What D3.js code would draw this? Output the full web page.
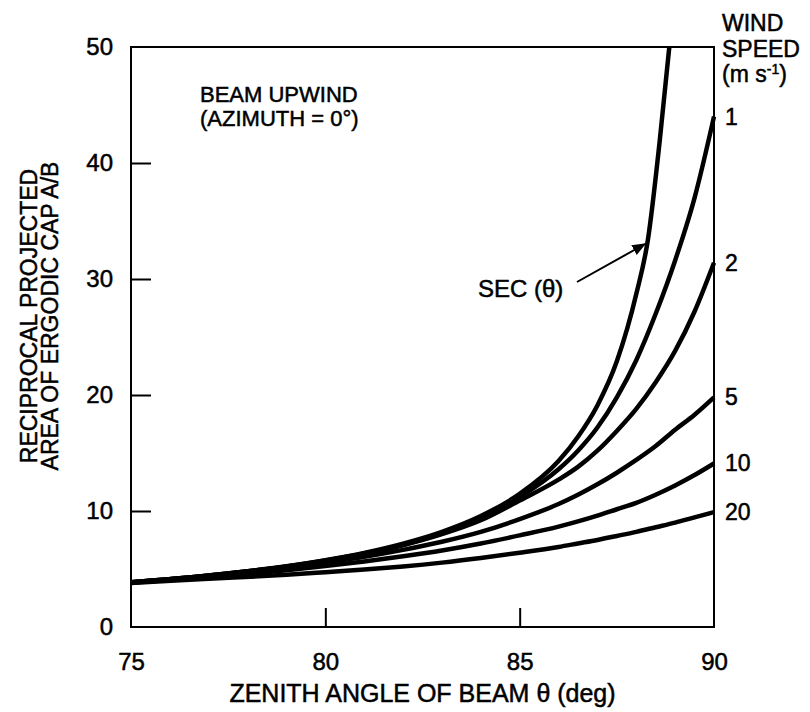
<!DOCTYPE html>
<html>
    <head>
        <title></title>
        <script src="https://d3js.org/d3.v7.min.js"></script>
    </head>

    <body>
        <div id="my_dataviz"></div>
    </body>

    <script>
        // values
        var secAngles = [75, 77, 79, 80, 81, 82, 83, 84, 85, 86, 86.5, 87, 87.5, 88, 88.3, 88.6, 88.85];
        var secValues = [3.86, 4.45, 5.24, 5.76, 6.39, 7.19, 8.21, 9.57, 11.47, 14.3, 16.4, 19.1, 22.9, 28.7, 33.4, 41.8, 50];

        var windAngles = [75, 77, 79, 80, 81, 82, 83, 84, 85, 86, 86.5, 87, 87.5, 88, 88.5, 89, 89.5, 90];
        var wind1 = [3.86, 4.45, 5.22, 5.73, 6.33, 7.1, 8.08, 9.35, 11.2, 13.6, 15.2, 17.2, 19.8, 23.0, 27.0, 31.6, 37.0, 44.0];
        var wind2 = [3.86, 4.45, 5.2, 5.7, 6.3, 7.05, 8.0, 9.2, 10.9, 12.7, 13.8, 15.2, 16.9, 18.8, 21.1, 23.8, 27.2, 31.4];
        var wind5 = [3.84, 4.4, 5.1, 5.55, 6.05, 6.65, 7.35, 8.2, 9.3, 10.6, 11.4, 12.3, 13.3, 14.4, 15.6, 17.0, 18.3, 19.8];
        var wind10 = [3.82, 4.3, 4.9, 5.25, 5.65, 6.1, 6.6, 7.2, 7.9, 8.65, 9.1, 9.6, 10.15, 10.7, 11.4, 12.2, 13.1, 14.1];
        var wind20 = [3.8, 4.15, 4.5, 4.72, 4.95, 5.22, 5.55, 5.95, 6.4, 6.9, 7.2, 7.5, 7.85, 8.2, 8.6, 9.0, 9.45, 9.9];
        var windLabels = ["1", "2", "5", "10", "20"];

        var xTicks = [75, 80, 85, 90];
        var yTicks = [0, 10, 20, 30, 40, 50];

        var margin = { top: 47, right: 96, bottom: 85, left: 131 };
        var width = 810 - margin.left - margin.right;
        var height = 712 - margin.top - margin.bottom;
        var font = "'Liberation Sans', Arial, Helvetica, sans-serif";

        var svg = d3.select("#my_dataviz")
        .append("svg")
        .attr("width", 810)
        .attr("height", 712)
        .style("font-family", font)
        .append("g")
        .attr("transform", "translate(" + margin.left + "," + margin.top + ")");

        var x = d3.scaleLinear().domain([75, 90]).range([0, width]);
        var y = d3.scaleLinear().domain([0, 50]).range([height, 0]);

        // frame
        svg.append("rect")
        .attr("width", width)
        .attr("height", height)
        .attr("fill", "none")
        .attr("stroke", "#000")
        .attr("stroke-width", 2);

        // x axis, ticks pointing inward
        var gx = svg.append("g")
        .attr("transform", "translate(0," + height + ")")
        .call(d3.axisBottom(x).tickValues(xTicks).tickSize(-19).tickPadding(26).tickFormat(d3.format("d")));
        gx.select(".domain").remove();
        gx.selectAll(".tick line")
        .attr("stroke-width", 2)
        .attr("display", function(d) { return (d == 75 || d == 90) ? "none" : null; });
        gx.selectAll("text").attr("font-size", 24).attr("font-family", font).attr("fill", "#000");

        // y axis
        var gy = svg.append("g")
        .call(d3.axisLeft(y).tickValues(yTicks).tickSize(-20).tickPadding(18));
        gy.select(".domain").remove();
        gy.selectAll(".tick line")
        .attr("stroke-width", 2)
        .attr("display", function(d) { return (d == 0 || d == 50) ? "none" : null; });
        gy.selectAll("text").attr("font-size", 24).attr("font-family", font).attr("fill", "#000");

        // curves
        var line = d3.line()
        .x(function(d) { return x(d[0]); })
        .y(function(d) { return y(d[1]); })
        .curve(d3.curveMonotoneX);

        var series = [wind1, wind2, wind5, wind10, wind20];
        series.forEach(function(vals, i) {
            var pts = windAngles.map(function(a, j) { return [a, vals[j]]; });
            svg.append("path")
            .attr("d", line(pts))
            .attr("fill", "none")
            .attr("stroke", "#000")
            .attr("stroke-width", 4.5);

            svg.append("text")
            .attr("x", width + 11)
            .attr("y", y(vals[vals.length - 1]))
            .attr("dy", "0.35em")
            .attr("font-size", 23)
            .text(windLabels[i]);
        });

        svg.append("path")
        .attr("d", line(secAngles.map(function(a, j) { return [a, secValues[j]]; })))
        .attr("fill", "none")
        .attr("stroke", "#000")
        .attr("stroke-width", 4.5);

        // annotations
        var note = svg.append("text").attr("font-size", 22);
        note.append("tspan").attr("x", 69).attr("y", 55).text("BEAM UPWIND");
        note.append("tspan").attr("x", 69).attr("y", 79).text("(AZIMUTH = 0°)");

        svg.append("text")
        .attr("x", 347)
        .attr("y", 250)
        .attr("font-size", 24)
        .text("SEC (θ)");

        svg.append("defs").append("marker")
        .attr("id", "arrow")
        .attr("viewBox", "0 0 10 10")
        .attr("refX", 9).attr("refY", 5)
        .attr("markerWidth", 7).attr("markerHeight", 7)
        .attr("orient", "auto")
        .append("path")
        .attr("d", "M0,1 L10,5 L0,9 z")
        .attr("fill", "#000");

        svg.append("line")
        .attr("x1", 446).attr("y1", 235)
        .attr("x2", 514).attr("y2", 197)
        .attr("stroke", "#000")
        .attr("stroke-width", 2)
        .attr("marker-end", "url(#arrow)");

        // wind speed header
        var head = svg.append("text").attr("font-size", 23);
        head.append("tspan").attr("x", width + 8).attr("y", -16).text("WIND");
        head.append("tspan").attr("x", width + 8).attr("y", 10).text("SPEED");
        head.append("tspan").attr("x", width + 8).attr("y", 35).text("(m s");
        head.append("tspan").attr("font-size", 14).attr("dy", -8).text("-1");
        head.append("tspan").attr("dy", 8).text(")");

        // axis titles
        svg.append("text")
        .attr("x", width / 2)
        .attr("y", height + 75)
        .attr("text-anchor", "middle")
        .attr("font-size", 25)
        .text("ZENITH ANGLE OF BEAM θ (deg)");

        var yt = svg.append("text")
        .attr("transform", "translate(" + (-94) + "," + (height / 2 - 21) + ") rotate(-90)")
        .attr("text-anchor", "middle")
        .attr("font-size", 23);
        yt.append("tspan").attr("x", 0).attr("y", 0).text("RECIPROCAL PROJECTED");
        yt.append("tspan").attr("x", 0).attr("y", 21).text("AREA OF ERGODIC CAP A/B");

        // scanned print looks a bit heavier
        d3.selectAll("svg text").attr("stroke", "#000").attr("stroke-width", 0.5);
    </script>

    <style>
        body { margin: 0; background: #fff; }
    </style>
</html>
